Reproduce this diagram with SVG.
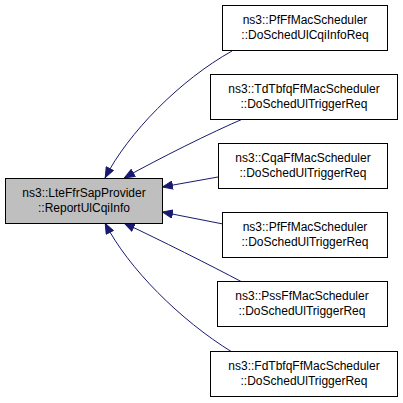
<svg xmlns="http://www.w3.org/2000/svg" width="403" height="403" viewBox="0 0 403 403">
<style>
.box{fill:#fff;stroke:#000;stroke-width:1}
.main{fill:#bfbfbf;stroke:#000;stroke-width:1}
.t{font-family:"Liberation Sans",Arial,sans-serif;font-size:12px;fill:#000;text-anchor:middle}
.e{fill:none;stroke:#191970;stroke-width:1}
</style>
<defs>
<marker id="ah" viewBox="0 0 11 9" refX="11" refY="4.5" markerWidth="11" markerHeight="9" markerUnits="userSpaceOnUse" orient="auto">
<path d="M0.5,0.5 L10.5,4.5 L0.5,8.5 Z" fill="#191970" stroke="#191970"/>
</marker>
</defs>
<rect width="403" height="403" fill="#fff"/>
<g id="edges">
<path class="e" marker-end="url(#ah)" d="M232,51 C180,80 128,133 105,178"/>
<path class="e" marker-end="url(#ah)" d="M245,118 C210,133 160,158 124,178"/>
<path class="e" marker-end="url(#ah)" d="M218,177 L162,187"/>
<path class="e" marker-end="url(#ah)" d="M223,224 L162,212"/>
<path class="e" marker-end="url(#ah)" d="M242,282 C210,265 160,240 124,223"/>
<path class="e" marker-end="url(#ah)" d="M232,352 C180,320 128,268 105,223"/>
</g>
<g id="main">
<rect class="main" x="5.5" y="178.5" width="157" height="45"/>
<text class="t" x="84" y="197">ns3::LteFfrSapProvider</text>
<text class="t" x="84" y="212">::ReportUlCqiInfo</text>
</g>
<g id="n1">
<rect class="box" x="222.5" y="5.5" width="165" height="45"/>
<text class="t" x="305" y="24">ns3::PfFfMacScheduler</text>
<text class="t" x="305" y="39">::DoSchedUlCqiInfoReq</text>
</g>
<g id="n2">
<rect class="box" x="210.5" y="74.5" width="187" height="45"/>
<text class="t" x="304" y="93">ns3::TdTbfqFfMacScheduler</text>
<text class="t" x="304" y="108">::DoSchedUlTriggerReq</text>
</g>
<g id="n3">
<rect class="box" x="218.5" y="143.5" width="169" height="45"/>
<text class="t" x="303" y="162">ns3::CqaFfMacScheduler</text>
<text class="t" x="303" y="177">::DoSchedUlTriggerReq</text>
</g>
<g id="n4">
<rect class="box" x="222.5" y="212.5" width="165" height="45"/>
<text class="t" x="305" y="231">ns3::PfFfMacScheduler</text>
<text class="t" x="305" y="246">::DoSchedUlTriggerReq</text>
</g>
<g id="n5">
<rect class="box" x="217.5" y="281.5" width="170" height="45"/>
<text class="t" x="302" y="300">ns3::PssFfMacScheduler</text>
<text class="t" x="302" y="315">::DoSchedUlTriggerReq</text>
</g>
<g id="n6">
<rect class="box" x="210.5" y="351.5" width="187" height="45"/>
<text class="t" x="304" y="370">ns3::FdTbfqFfMacScheduler</text>
<text class="t" x="304" y="385">::DoSchedUlTriggerReq</text>
</g>
</svg>
